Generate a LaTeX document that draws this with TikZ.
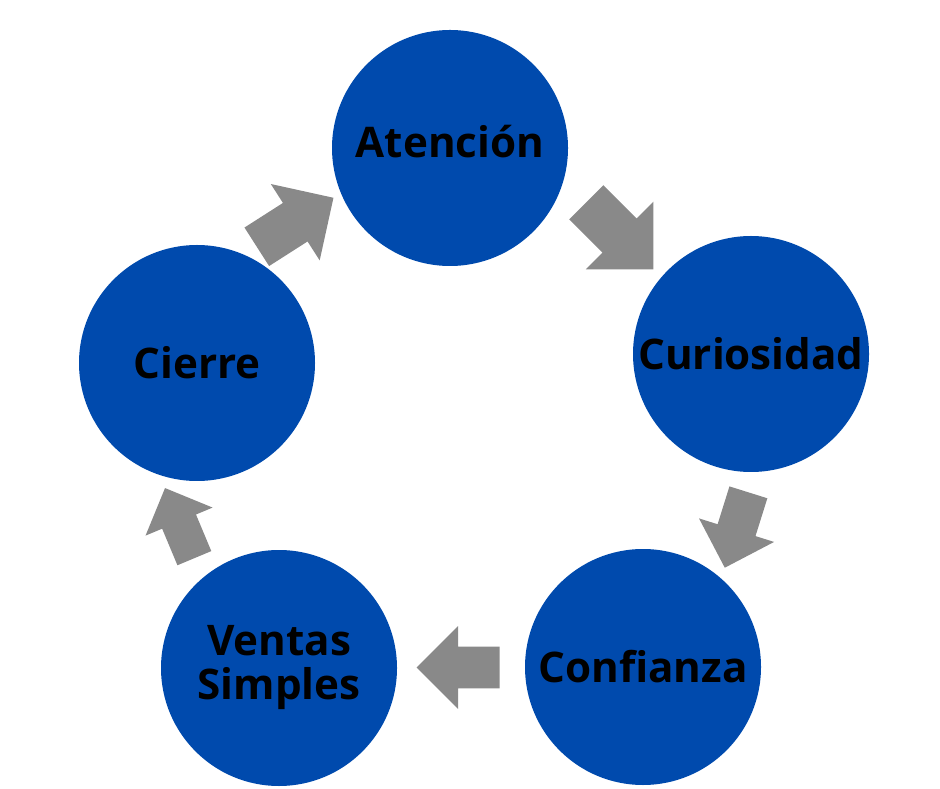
\documentclass[tikz,border=0pt]{standalone}
\usepackage{fontspec}
\setmainfont{Open Sans}
\usepackage{xcolor}
\usepackage{tikz}
\usetikzlibrary{shapes.arrows}
\definecolor{cblue}{HTML}{004AAD}
\definecolor{cgray}{HTML}{898989}

\begin{document}
\begin{tikzpicture}[
		stage/.style={circle, fill=cblue, minimum size=4.72cm, inner sep=0pt,
			align=center, font=\fontsize{24}{22}\selectfont\bfseries},
		flow/.style={single arrow, fill=cgray, inner xsep=0pt, inner ysep=#1/2,
			single arrow head extend=#1/2, anchor=tail}
	]
			\useasboundingbox (0,0) rectangle (18.8,15.76);

			\node[stage] (aten) at (9.0, 12.8) {\raisebox{7pt}{Atención}};
			\node[stage] (curi) at (15.02, 8.68) {Curiosidad};
			\node[stage] (conf) at (12.86, 2.42) {Confianza};
			\node[stage] (vent) at (5.58, 2.4) {\raisebox{-4pt}{\begin{tabular}{@{}c@{}}Ventas\\Simples\end{tabular}}};
			\node[stage] (cier) at (3.94, 8.5) {Cierre};

			\node[flow=0.95cm, minimum height=1.9cm, rotate=-45] (a1) at (11.72, 11.72) {};
			\node[flow=0.78cm, minimum height=1.58cm, rotate=-107.4] (a2) at (14.97, 5.92) {};
			\node[flow=0.82cm, minimum height=1.66cm, rotate=180] (a3) at (10.0, 2.41) {};
			\node[flow=0.72cm, minimum height=1.52cm, rotate=112.7] (a4) at (3.89, 4.59) {};
			\node[flow=0.9cm, minimum height=1.82cm, rotate=32.6] (a5) at (5.13, 10.82) {};
		\end{tikzpicture}
\end{document}
